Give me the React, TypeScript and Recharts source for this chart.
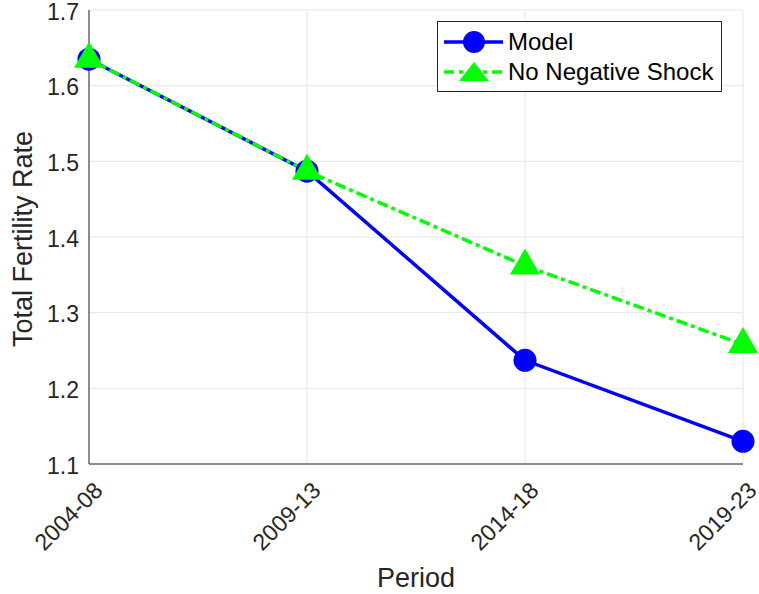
import { CartesianGrid, Line, LineChart, XAxis, YAxis } from 'recharts';

const PERIODS = ['2004-08', '2009-13', '2014-18', '2019-23'];
const MODEL = [1.635, 1.487, 1.237, 1.13];
const NO_SHOCK = [1.635, 1.487, 1.362, 1.258];
const Y_TICKS = [1.1, 1.2, 1.3, 1.4, 1.5, 1.6, 1.7];
const SERIES_NAMES = ['Model', 'No Negative Shock'];

const FONT = '"Liberation Sans", Arial, Helvetica, sans-serif';
const INK = '#262626';
const BLUE = '#0000ff';
const GREEN = '#00ff00';
const DASH = '11 4 4 4';

const data = PERIODS.map((p, i) => ({ period: p, model: MODEL[i], noShock: NO_SHOCK[i] }));

// rotated period labels, end of text sits just right of / below the tick
function XTick({ x, y, payload }: any) {
  return (
    <g transform={`translate(${x + 15},${y + 20})`}>
      <text textAnchor="end" transform="rotate(-45)" fontSize={23} fill={INK} fontFamily={FONT}>
        {payload.value}
      </text>
    </g>
  );
}

function YTick({ x, y, payload }: any) {
  return (
    <text x={x - 2} y={y} dy={9.5} textAnchor="end" fontSize={23} fill={INK} fontFamily={FONT}>
      {payload.value.toFixed(1)}
    </text>
  );
}

const empty = () => <g />;

function Circle({ cx, cy }: any) {
  return <circle cx={cx} cy={cy} r={11.5} fill={BLUE} stroke="none" />;
}

function Tri({ cx, cy }: any) {
  const h = 26;
  const w = 30;
  return (
    <polygon
      points={`${cx - w / 2},${cy + h / 3} ${cx + w / 2},${cy + h / 3} ${cx},${cy - (2 * h) / 3}`}
      fill={GREEN}
      stroke="none"
    />
  );
}

function LegendBox() {
  return (
    <div
      style={{
        position: 'absolute',
        left: 437,
        top: 21,
        width: 283,
        height: 69,
        border: `1px solid ${INK}`,
        background: '#fff',
        fontFamily: FONT,
        fontSize: 24,
        color: '#000',
      }}
    >
      {SERIES_NAMES.map((name, i) => (
        <div
          key={name}
          style={{ position: 'absolute', left: 5, top: i === 0 ? 5 : 35, height: 30, display: 'flex', alignItems: 'center', whiteSpace: 'nowrap' }}
        >
          <svg width={62} height={30} style={{ flex: 'none' }}>
            {i === 0 ? (
              <>
                <line x1={1} x2={60} y1={15} y2={15} stroke={BLUE} strokeWidth={3.5} />
                <circle cx={31} cy={15} r={11} fill={BLUE} />
              </>
            ) : (
              <>
                <line x1={1} x2={60} y1={15} y2={15} stroke={GREEN} strokeWidth={3.5} strokeDasharray="10 5 4 5" />
                <polygon points="16,24 46,24 31,5" fill={GREEN} />
              </>
            )}
          </svg>
          <span style={{ marginLeft: 3 }}>{name}</span>
        </div>
      ))}
    </div>
  );
}

export default function App() {
  return (
    <div style={{ position: 'absolute', left: 0, top: 0, width: 759, height: 594, background: '#fff' }}>
      <LineChart width={759} height={594} data={data} margin={{ top: 10, right: 16, left: 39, bottom: 0 }}>
        <CartesianGrid xAxisId="b" yAxisId="l" stroke="#e6e6e6" strokeWidth={1} />
        <XAxis
          xAxisId="b"
          dataKey="period"
          height={130}
          tickLine={false}
          axisLine={{ stroke: INK }}
          tick={<XTick />}
          interval={0}
        />
        <XAxis xAxisId="bt" dataKey="period" height={0} mirror axisLine={false} tickLine={{ stroke: INK }} tickSize={5} tick={empty} />
        <XAxis xAxisId="t" dataKey="period" orientation="top" height={0} mirror axisLine={{ stroke: INK }} tickLine={{ stroke: INK }} tickSize={5} tick={empty} />
        <YAxis
          yAxisId="l"
          type="number"
          domain={[1.1, 1.7]}
          ticks={Y_TICKS}
          width={50}
          tickLine={false}
          axisLine={{ stroke: INK }}
          tick={<YTick />}
        />
        <YAxis yAxisId="lt" type="number" domain={[1.1, 1.7]} ticks={Y_TICKS} width={0} mirror axisLine={false} tickLine={{ stroke: INK }} tickSize={5} tick={empty} />
        <YAxis yAxisId="r" orientation="right" type="number" domain={[1.1, 1.7]} ticks={Y_TICKS} width={0} mirror axisLine={{ stroke: INK }} tickLine={{ stroke: INK }} tickSize={5} tick={empty} />
        <Line
          xAxisId="b"
          yAxisId="l"
          dataKey="model"
          name={SERIES_NAMES[0]}
          stroke={BLUE}
          strokeWidth={3.5}
          dot={<Circle />}
          activeDot={false}
          isAnimationActive={false}
        />
        <Line
          xAxisId="b"
          yAxisId="l"
          dataKey="noShock"
          name={SERIES_NAMES[1]}
          stroke={GREEN}
          strokeWidth={3.5}
          strokeDasharray={DASH}
          dot={<Tri />}
          activeDot={false}
          isAnimationActive={false}
        />
      </LineChart>
      <svg style={{ position: 'absolute', left: 0, top: 0, pointerEvents: 'none' }} width={759} height={594}>
        <text x={416} y={587} textAnchor="middle" fontSize={27} fill={INK} fontFamily={FONT}>
          Period
        </text>
        <text x={0} y={0} transform="translate(32,239) rotate(-90)" textAnchor="middle" fontSize={27} fill={INK} fontFamily={FONT}>
          Total Fertility Rate
        </text>
      </svg>
      <LegendBox />
    </div>
  );
}
